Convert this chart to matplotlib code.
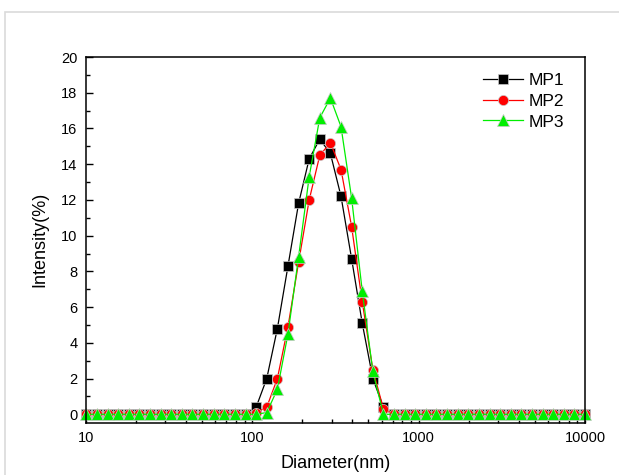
import matplotlib.pyplot as plt
from matplotlib.patches import Rectangle
from matplotlib.ticker import MultipleLocator, NullFormatter

plt.rcParams["font.family"] = ["Liberation Sans", "DejaVu Sans"]

# size bins (nm)
diameter = [10.10, 11.70, 13.54, 15.69, 18.17, 21.04, 24.36, 28.21, 32.67, 37.84,
            43.82, 50.75, 58.77, 68.06, 78.82, 91.28, 105.7, 122.4, 141.8, 164.2,
            190.1, 220.2, 255.0, 295.3, 342.0, 396.1, 458.7, 531.2, 615.1, 712.4,
            825.0, 955.4, 1106, 1281, 1484, 1718, 1990, 2305, 2669, 3091,
            3580, 4145, 4801, 5560, 6439, 7456, 8635, 10000]

mp1 = [0, 0, 0, 0, 0, 0, 0, 0, 0, 0, 0, 0, 0, 0, 0, 0,
       0.4, 2.0, 4.8, 8.3, 11.8, 14.3, 15.4, 14.6, 12.2, 8.7, 5.1, 2.0, 0.4,
       0, 0, 0, 0, 0, 0, 0, 0, 0, 0, 0, 0, 0, 0, 0, 0, 0, 0, 0]
mp2 = [0, 0, 0, 0, 0, 0, 0, 0, 0, 0, 0, 0, 0, 0, 0, 0,
       0.1, 0.4, 2.0, 4.9, 8.5, 12.0, 14.5, 15.2, 13.7, 10.5, 6.3, 2.5, 0.3,
       0, 0, 0, 0, 0, 0, 0, 0, 0, 0, 0, 0, 0, 0, 0, 0, 0, 0, 0]
mp3 = [0, 0, 0, 0, 0, 0, 0, 0, 0, 0, 0, 0, 0, 0, 0, 0,
       0.0, 0.1, 1.4, 4.5, 8.8, 13.3, 16.6, 17.7, 16.1, 12.1, 6.9, 2.4, 0.0,
       0, 0, 0, 0, 0, 0, 0, 0, 0, 0, 0, 0, 0, 0, 0, 0, 0, 0, 0]

series = [
    ("MP1", mp1, "black", "s", 6.8),
    ("MP2", mp2, "#ff0000", "o", 7.3),
    ("MP3", mp3, "#00ee00", "^", 8.3),
]

fig = plt.figure(figsize=(6.19, 4.75), dpi=100)
# light frame of the screenshot
fig.patches.append(Rectangle((5 / 619, -0.1), 1.2, (475 - 12) / 475 + 0.1,
                             transform=fig.transFigure, fill=False,
                             edgecolor="#dadada", linewidth=1.2))

ax = fig.add_axes([85.7 / 619, 1 - 422.7 / 475, (585 - 85.7) / 619, (422.7 - 57) / 475])

for name, vals, col, mk, ms in series:
    ax.plot(diameter, vals, color=col, linewidth=0.9, marker=mk, markersize=ms,
            markerfacecolor=col, markeredgecolor="#c8c8c8", markeredgewidth=0.5,
            label=name, clip_on=False)

ax.set_xscale("log")
ax.set_xlim(10, 10000)
ax.set_ylim(-0.47, 20)
ax.set_xticks([10, 100, 1000, 10000])
ax.set_xticklabels(["10", "100", "1000", "10000"])
ax.xaxis.set_minor_formatter(NullFormatter())
ax.yaxis.set_major_locator(MultipleLocator(2))
ax.yaxis.set_minor_locator(MultipleLocator(1))

ax.tick_params(which="both", direction="in", top=False, right=False,
               labelsize=10.5, width=1)
ax.tick_params(which="major", length=5, pad=6)
ax.tick_params(which="minor", length=3)
for sp in ax.spines.values():
    sp.set_linewidth(1.1)

ax.set_xlabel("Diameter(nm)", fontsize=13, labelpad=7)
ax.set_ylabel("Intensity(%)", fontsize=13, labelpad=9)

ax.legend(loc="upper right", frameon=False, fontsize=12.5, handlelength=2.3,
          handletextpad=0.35, labelspacing=0.33, borderaxespad=0.5,
          bbox_to_anchor=(0.99, 1.0))

fig.savefig("out.png", dpi=100)
